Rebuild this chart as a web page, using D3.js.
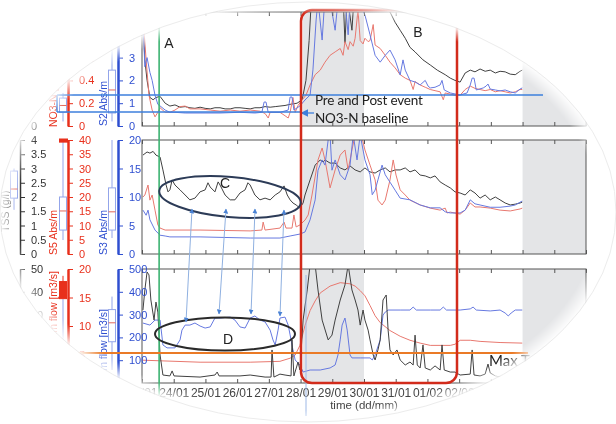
<!DOCTYPE html>
<html>
<head>
<meta charset="utf-8">
<script src="https://cdn.jsdelivr.net/npm/d3@7"></script>
<style>
  body { margin: 0; background: #fff; }
  svg { display: block; }
  text { font-family: "Liberation Sans", Arial, sans-serif; }
  .note { font-family: Lato, "Open Sans", sans-serif; }
</style>
</head>
<body>
<svg id="chart" width="616" height="424"></svg>
<script>
// ---- data (time in days since 23/01 00:00) ----
const dayLabels = ["23/01","24/01","25/01","26/01","27/01","28/01","29/01","30/01","31/01","01/02","02/02","03/02","04/02","05/02","06/02"];
const shadedSpans = [[5.08, 7.0], [12.0, 14.0]];

// panel 1 : black (unnamed axis), NO3-N (red), S2 Abs/m (blue)
const p1Black = [[0.03,9.3],[0.09,5.8],[0.16,4.0],[0.25,2.5],[0.35,2.3],[0.44,2.5],[0.57,2.6],[0.73,2.0],[0.88,1.75],[1.04,1.85],[1.2,1.65],[1.36,1.7],[1.51,1.6],[1.67,1.55],[1.83,1.65],[1.99,1.55],[2.15,1.5],[2.3,1.6],[2.46,1.6],[2.62,1.5],[2.78,1.5],[2.93,1.6],[3.09,1.6],[3.25,1.55],[3.41,1.5],[3.56,1.6],[3.72,1.6],[3.88,1.7],[4.04,1.65],[4.2,1.7],[4.35,1.75],[4.51,1.8],[4.67,1.9],[4.89,2.0],[5.05,2.3],[5.17,4.0],[5.27,7.5],[5.33,10.6],[5.93,11.9],[6.34,11.5],[6.4,7.3],[6.47,11.5],[6.62,8.4],[6.69,11.5],[7.03,11.5],[7.19,11.0],[7.51,10.6],[7.82,10.0],[7.98,9.1],[8.14,8.4],[8.3,7.7],[8.45,6.9],[8.61,6.5],[8.86,5.8],[9.09,5.35],[9.31,4.9],[9.56,4.5],[9.72,4.2],[9.87,4.0],[10.03,3.85],[10.19,4.65],[10.35,4.9],[10.5,4.75],[10.66,5.0],[10.82,4.8],[10.98,4.9],[11.14,4.65],[11.29,4.8],[11.45,4.75],[11.61,4.55],[11.77,4.5],[11.92,4.8],[11.99,4.9]];
const p1Red = [[0.03,0.97],[0.13,0.58],[0.22,0.27],[0.32,0.14],[0.41,0.08],[0.5,0.12],[0.57,0.16],[0.73,0.12],[0.88,0.12],[1.04,0.14],[1.2,0.17],[1.36,0.175],[1.51,0.15],[1.83,0.15],[2.15,0.14],[2.46,0.13],[2.78,0.14],[3.09,0.13],[3.41,0.14],[3.72,0.13],[3.88,0.11],[3.98,0.07],[4.04,0.12],[4.35,0.12],[4.51,0.09],[4.61,0.07],[4.67,0.12],[4.76,0.25],[4.83,0.12],[4.92,0.18],[5.05,0.23],[5.17,0.27],[5.3,0.36],[5.46,0.45],[5.62,0.49],[5.77,0.56],[5.93,0.62],[6.09,0.65],[6.25,0.68],[6.34,0.62],[6.4,0.74],[6.5,0.67],[6.56,0.74],[6.66,0.7],[6.72,0.77],[6.81,1.02],[6.88,0.75],[6.97,0.72],[7.03,0.77],[7.13,0.74],[7.19,0.75],[7.29,0.89],[7.35,0.71],[7.51,0.68],[7.67,0.62],[7.82,0.56],[7.98,0.51],[8.14,0.45],[8.3,0.42],[8.45,0.4],[8.55,0.32],[8.61,0.39],[8.77,0.36],[8.93,0.34],[9.09,0.32],[9.24,0.31],[9.4,0.3],[9.5,0.23],[9.56,0.29],[9.72,0.28],[9.87,0.27],[10.03,0.27],[10.19,0.32],[10.35,0.35],[10.5,0.33],[10.66,0.32],[10.82,0.31],[10.98,0.32],[11.14,0.3],[11.29,0.31],[11.45,0.3],[11.61,0.29],[11.77,0.3],[11.92,0.32],[11.99,0.32]];
const p1Blue = [[0.03,4.65],[0.09,2.6],[0.16,3.0],[0.25,2.35],[0.32,2.0],[0.41,1.35],[0.5,0.95],[0.57,0.88],[0.73,0.7],[0.88,0.6],[1.04,0.6],[1.36,0.57],[1.83,0.57],[2.46,0.57],[3.09,0.6],[3.56,0.57],[3.78,0.6],[3.85,1.05],[3.91,1.05],[3.98,0.6],[4.35,0.6],[4.61,0.7],[4.67,1.27],[4.73,1.27],[4.79,0.7],[4.98,0.88],[5.14,1.14],[5.3,1.36],[5.39,2.46],[5.49,4.65],[5.55,5.5],[5.68,3.77],[5.77,5.7],[5.93,5.5],[6.09,4.2],[6.18,5.5],[6.4,5.5],[6.5,4.0],[6.56,5.5],[6.81,5.75],[6.94,5.1],[7.03,4.87],[7.19,4.0],[7.35,3.1],[7.51,2.8],[7.67,3.1],[7.82,3.33],[7.98,2.9],[8.14,2.24],[8.23,2.9],[8.3,2.45],[8.45,2.0],[8.61,1.93],[8.77,1.8],[8.93,2.0],[9.02,1.75],[9.09,1.67],[9.24,1.7],[9.4,1.8],[9.46,2.0],[9.53,1.58],[9.72,1.45],[10.03,1.36],[10.25,1.45],[10.35,1.8],[10.41,2.1],[10.47,2.1],[10.54,1.58],[10.76,1.67],[10.85,1.75],[10.91,1.84],[10.98,1.62],[11.14,1.58],[11.29,1.54],[11.45,1.58],[11.61,1.5],[11.77,1.45],[11.92,1.62],[11.99,1.67]];

// panel 2 : black (g/l), S5 Abs/m (red), S3 Abs/m (blue)
const p2Black = [[0.03,3.47],[0.16,3.58],[0.25,3.54],[0.35,3.6],[0.44,3.47],[0.57,3.4],[0.66,2.95],[0.76,2.42],[0.82,2.18],[0.88,2.25],[0.95,2.6],[1.04,2.42],[1.2,2.25],[1.36,2.07],[1.51,1.9],[1.67,1.96],[1.83,2.18],[1.99,2.25],[2.08,2.5],[2.15,2.35],[2.3,2.18],[2.4,2.53],[2.46,2.42],[2.62,2.07],[2.78,1.9],[2.93,1.9],[3.09,2.14],[3.25,2.25],[3.34,2.5],[3.41,2.42],[3.56,2.07],[3.72,1.9],[3.88,1.96],[4.04,1.9],[4.2,2.07],[4.35,2.18],[4.48,2.39],[4.58,2.07],[4.67,1.9],[4.76,1.79],[4.86,1.72],[4.98,1.61],[5.08,1.79],[5.14,2.07],[5.3,2.6],[5.46,3.12],[5.62,3.3],[5.71,3.23],[5.77,3.3],[5.93,3.19],[6.09,3.19],[6.25,3.02],[6.4,2.95],[6.56,3.09],[6.72,2.95],[6.88,2.88],[7.03,3.02],[7.19,2.88],[7.35,2.84],[7.51,2.95],[7.67,3.02],[7.82,2.88],[7.98,2.95],[8.14,2.95],[8.3,3.02],[8.45,2.88],[8.61,2.95],[8.77,2.77],[8.93,2.74],[9.09,2.67],[9.24,2.74],[9.4,2.53],[9.56,2.42],[9.72,2.32],[9.87,2.18],[10.03,2.14],[10.19,2.07],[10.35,2.25],[10.5,2.14],[10.66,1.96],[10.82,2.07],[10.98,1.9],[11.14,2.0],[11.29,1.9],[11.45,1.79],[11.61,1.72],[11.77,1.75],[11.92,1.79],[11.99,1.82]];
const p2Red = [[0.03,20],[0.09,20.7],[0.19,24.2],[0.25,18.9],[0.32,20.7],[0.41,15.4],[0.5,10.2],[0.57,9.1],[0.73,8.4],[1.83,8.4],[3.41,8.1],[3.78,8.4],[3.82,11.2],[3.88,8.4],[4.35,9.1],[4.48,11.2],[4.54,9.1],[4.73,9.1],[4.79,13.7],[4.86,9.5],[4.98,10.2],[5.14,11.9],[5.24,13.7],[5.36,20.7],[5.55,33],[5.68,37.2],[5.77,33],[5.93,23.2],[6.09,29.5],[6.25,34.7],[6.4,36.5],[6.5,29.5],[6.62,36.5],[6.72,41.8],[6.88,43.5],[7.03,36.5],[7.19,31.2],[7.35,26],[7.44,18.9],[7.57,17.2],[7.67,18.9],[7.82,26],[7.92,33],[8.01,27.7],[8.14,22.5],[8.3,20.7],[8.45,18.9],[8.77,17.2],[9.09,16.1],[9.4,15.4],[9.56,16.1],[9.62,14.4],[9.72,14.7],[10.03,14.0],[10.19,15.4],[10.35,17.9],[10.5,16.5],[10.66,16.5],[10.98,16.1],[11.29,15.4],[11.61,15.1],[11.92,15.8],[11.99,16.1]];
const p2Blue = [[0.03,7.7],[0.13,6.8],[0.19,7.7],[0.25,6.0],[0.41,4.2],[0.57,3.3],[0.73,3.16],[0.88,3.0],[1.83,3.0],[3.41,2.8],[4.35,2.8],[4.67,3.16],[4.98,3.5],[5.14,3.86],[5.3,6.0],[5.46,9.5],[5.55,14.7],[5.68,16.5],[5.77,15.6],[5.87,20],[5.93,20.9],[5.99,14.7],[6.09,16.5],[6.25,13.9],[6.4,13.0],[6.56,15.6],[6.66,20.9],[6.78,16.5],[6.88,20.9],[7.03,16.5],[7.19,13.9],[7.26,10.4],[7.35,11.2],[7.44,13.0],[7.57,15.6],[7.67,13.9],[7.82,12.6],[7.98,11.2],[8.14,9.8],[8.45,9.5],[8.77,8.6],[9.09,8.1],[9.4,8.1],[9.56,7.4],[9.72,7.2],[10.03,7.2],[10.19,7.7],[10.35,9.5],[10.5,8.8],[10.66,8.6],[10.98,8.2],[11.29,8.2],[11.61,8.4],[11.77,8.6],[11.99,9.3]];

// panel 3 : black, stream flow (red), dam flow (blue)
const p3Black = [[0.03,32],[0.09,40.8],[0.16,48.7],[0.22,47.4],[0.28,36.4],[0.38,27.6],[0.44,35.5],[0.5,31.1],[0.57,12.3],[0.66,3.5],[0.88,3.1],[0.95,5.3],[1.01,3.1],[1.83,2.6],[2.3,3.5],[2.37,4.8],[2.43,3.1],[3.09,3.1],[3.41,3.5],[3.88,2.6],[4.07,2.6],[4.1,14.5],[4.16,2.6],[4.35,3.9],[4.51,3.5],[4.7,3.1],[4.73,18.9],[4.79,3.1],[4.92,9.2],[4.98,5.7],[5.08,27.6],[5.21,40.8],[5.3,51.8],[5.46,51.8],[5.55,40.8],[5.68,27.6],[5.87,18.9],[5.99,21],[6.09,27.6],[6.25,36.4],[6.4,43],[6.5,51.8],[6.62,40.8],[6.72,36.4],[6.81,32],[6.88,25.4],[6.97,32],[7.03,27.6],[7.13,23.2],[7.19,18.9],[7.29,12.3],[7.35,10.1],[7.44,14.5],[7.51,18.9],[7.6,36.4],[7.7,38.6],[7.76,23.2],[7.82,14.5],[7.92,12.3],[8.04,14.5],[8.14,10.1],[8.3,7.9],[8.45,9.2],[8.55,7.9],[8.61,21],[8.68,7.9],[8.77,6.6],[8.86,16.7],[8.93,6.6],[9.09,5.7],[9.24,7.5],[9.4,5.7],[9.46,16.7],[9.53,5.7],[9.72,4.8],[9.87,4.8],[10.03,3.5],[10.35,3.9],[10.41,14.5],[10.47,3.5],[10.66,3.1],[10.82,3.9],[10.91,8.3],[10.98,4.4],[11.14,3.1],[11.29,2.6],[11.45,3.1],[11.77,3.5],[11.99,3.1]];
const p3Red = [[0.03,4.0],[1.83,3.65],[3.41,3.65],[4.35,3.8],[4.67,4.35],[4.83,4.9],[4.98,6.6],[5.14,10.1],[5.3,12.7],[5.46,14.4],[5.62,15.8],[5.93,17.0],[6.25,17.6],[6.56,17.4],[6.72,17.0],[6.88,16.2],[7.03,15.3],[7.19,13.6],[7.35,11.8],[7.51,10.6],[7.82,9.2],[8.14,8.2],[8.45,7.5],[8.77,7.0],[9.09,6.6],[9.72,6.6],[9.87,6.8],[10.03,7.5],[10.35,7.5],[10.66,7.3],[11.29,7.1],[11.99,7.0]];
const p3Blue = [[0.03,263],[0.25,254],[0.41,276],[0.57,276],[0.66,167],[0.79,154],[1.04,154],[1.2,189],[1.26,232],[1.36,254],[1.51,254],[1.67,263],[1.83,250],[1.99,241],[2.15,246],[2.3,285],[2.46,285],[2.78,289],[2.93,276],[3.09,246],[3.25,241],[3.41,285],[3.56,294],[3.72,276],[3.88,268],[4.04,232],[4.13,189],[4.2,167],[4.29,232],[4.35,285],[4.51,289],[4.61,254],[4.67,211],[4.76,145],[4.83,101],[4.98,79],[5.08,48],[5.3,57],[5.62,57],[5.93,66],[6.09,79],[6.18,123],[6.25,189],[6.31,254],[6.4,285],[6.47,232],[6.56,123],[6.62,110],[6.88,110],[7.19,110],[7.26,101],[7.35,123],[7.51,189],[7.6,298],[7.67,311],[7.76,320],[8.14,320],[8.45,320],[8.55,333],[8.65,320],[9.09,320],[9.4,320],[9.5,333],[9.6,320],[10.03,320],[10.35,325],[10.44,333],[10.54,320],[10.98,316],[11.29,320],[11.45,307],[11.55,294],[11.64,307],[11.77,320],[11.99,320]];

// left axis ticks
const p1BlackTicks = [0, 2, 4, 6, 8, 10];
const p1RedTicks = [0, 0.2, 0.4, 0.6, 0.8, 1];
const p1BlueTicks = [0, 1, 2, 3, 4, 5];
const p2BlackTicks = [0, 0.5, 1, 1.5, 2, 2.5, 3, 3.5, 4];
const p2RedTicks = [0, 5, 10, 15, 20, 25, 30, 35, 40];
const p2BlueTicks = [0, 5, 10, 15, 20];
const p3BlackTicks = [10, 20, 30, 40, 50];
const p3RedTicks = [5, 10, 15, 20];
const p3BlueTicks = [100, 200, 300, 400, 500];

// box plots: [min, q1, median, q3, max]
const p1RedBox = [0.04, 0.12, 0.18, 0.245, 0.29];
const p1BlueBox = [0.2, 0.57, 1.58, 2.45, 3.33];
const p2BlackBox = [1.55, 1.96, 2.28, 2.91, 3.0];
const p2RedBox = [4.9, 8.4, 15.1, 20, 40];
const p2RedOutliers = [39.6, 40];
const p2BlueBox = [2.8, 4.2, 7.4, 11.6, 20];
const p3RedBox = [7.6, 14.8, 16, 17.8, 18.8];
const p3BlueBox = [57, 181, 264, 322, 379];

// ---- drawing ----
const BLACK = "#333", RED = "#e8301c", BLUE = "#2f4fd0";
const lineCol = { k: "#404040", r: "#e8786f", b: "#6679e0" };
const boxBlue = "#93a5ea";

const svg = d3.select("#chart");
const defs = svg.append("defs");
const grad = defs.append("radialGradient").attr("id", "fade");
grad.append("stop").attr("offset", "0.94").attr("stop-color", "#fff");
grad.append("stop").attr("offset", "1").attr("stop-color", "#000");
defs.append("mask").attr("id", "oval")
  .attr("maskUnits", "userSpaceOnUse").attr("x", 0).attr("y", 0).attr("width", 616).attr("height", 424)
  .append("ellipse").attr("cx", 308).attr("cy", 212).attr("rx", 309).attr("ry", 211).attr("fill", "url(#fade)");

svg.append("ellipse").attr("cx", 308).attr("cy", 212).attr("rx", 308).attr("ry", 210)
  .attr("fill", "none").attr("stroke", "#ececec").attr("stroke-width", 1);

const root = svg.append("g").attr("mask", "url(#oval)");

const x = d3.scaleLinear().domain([0, 14]).range([142, 586]);
const panelH = 114;

const panels = [
  { top: 12, axes: [
      { pos: 20, color: BLACK, domain: [0, 10], ticks: p1BlackTicks, title: "" },
      { pos: 68, color: RED, domain: [0, 1], ticks: p1RedTicks, title: "NO3-N [mg/l]", titleAnchor: "start", titleY: 127 },
      { pos: 118, color: BLUE, domain: [0, 5], ticks: p1BlueTicks, title: "S2 Abs/m", titleAnchor: "start", titleY: 126 } ],
    series: [ [p1Black, 0, lineCol.k], [p1Red, 1, lineCol.r], [p1Blue, 2, lineCol.b] ],
    boxes: [ [p1RedBox, 1, 63, "none"], [p1BlueBox, 2, 112, "none"] ] },
  { top: 140, axes: [
      { pos: 20, color: BLACK, domain: [0, 4], ticks: p2BlackTicks, title: "TSS (g/l)", titleAnchor: "start", titleY: 232 },
      { pos: 68, color: RED, domain: [0, 40], ticks: p2RedTicks, title: "S5 Abs/m", titleAnchor: "start", titleY: 255 },
      { pos: 118, color: BLUE, domain: [0, 20], ticks: p2BlueTicks, title: "S3 Abs/m", titleAnchor: "start", titleY: 255 } ],
    series: [ [p2Black, 0, lineCol.k], [p2Red, 1, lineCol.r], [p2Blue, 2, lineCol.b] ],
    boxes: [ [p2BlackBox, 0, 14, "none"], [p2RedBox, 1, 63, "none"], [p2BlueBox, 2, 112, "none"] ] },
  { top: 269, axes: [
      { pos: 20, color: BLACK, domain: [0, 50], ticks: p3BlackTicks, title: "" },
      { pos: 68, color: RED, domain: [0, 20], ticks: p3RedTicks, title: "Stream flow [m3/s]", titleAnchor: "end", titleY: 271 },
      { pos: 118, color: BLUE, domain: [0, 500], ticks: p3BlueTicks, title: "Dale Dam flow [m3/s]", titleAnchor: "end", titleY: 309 } ],
    series: [ [p3Red, 1, lineCol.r], [p3Blue, 2, lineCol.b], [p3Black, 0, lineCol.k] ],
    boxes: [ [p3RedBox, 1, 63, RED], [p3BlueBox, 2, 112, "none"] ] }
];

panels.forEach((p, pi) => {
  const bottom = p.top + panelH;
  const g = root.append("g");
  const ys = p.axes.map(a => d3.scaleLinear().domain(a.domain).range([bottom, p.top]));

  defs.append("clipPath").attr("id", "clip" + pi)
    .append("rect").attr("x", x(0)).attr("y", p.top).attr("width", x(14) - x(0)).attr("height", panelH);

  // shaded spans
  g.selectAll("rect.shade").data(shadedSpans).join("rect").attr("class", "shade")
    .attr("x", d => x(d[0])).attr("width", d => x(d[1]) - x(d[0]))
    .attr("y", p.top).attr("height", panelH).attr("fill", "#e4e5e7");

  // series
  const lines = g.append("g").attr("clip-path", `url(#clip${pi})`);
  p.series.forEach(([data, ai, col]) => {
    const line = d3.line().x(d => x(d[0])).y(d => ys[ai](d[1]));
    lines.append("path").attr("d", line(data)).attr("fill", "none")
      .attr("stroke", col).attr("stroke-width", 1).attr("stroke-linejoin", "round");
  });

  // frame
  g.append("rect").attr("x", x(0)).attr("y", p.top).attr("width", x(14) - x(0)).attr("height", panelH)
    .attr("fill", "none").attr("stroke", "#555").attr("stroke-width", 1);

  // day ticks
  const dayTicks = d3.range(0, 15);
  g.append("g").attr("transform", `translate(0,${bottom})`)
    .call(d3.axisBottom(x).tickValues(dayTicks).tickSize(-4).tickPadding(5)
      .tickFormat(i => pi === 2 ? dayLabels[i] : ""))
    .call(a => a.select(".domain").remove())
    .call(a => a.selectAll("line").attr("stroke", "#555"))
    .call(a => a.selectAll("text").attr("font-size", 12).attr("fill", "#444")
      .attr("font-family", "'Liberation Sans', Arial, sans-serif"));
  g.append("g").attr("transform", `translate(0,${p.top})`)
    .call(d3.axisTop(x).tickValues(dayTicks).tickSize(-4).tickFormat(""))
    .call(a => a.select(".domain").remove())
    .call(a => a.selectAll("line").attr("stroke", "#555"));

  // left axes
  p.axes.forEach((a, ai) => {
    const ag = g.append("g").attr("transform", `translate(${a.pos},0)`)
      .call(d3.axisRight(ys[ai]).tickValues(a.ticks).tickSize(5).tickPadding(6).tickSizeOuter(0)
        .tickFormat(d => String(d)));
    ag.select(".domain").attr("stroke", a.color).attr("stroke-width", a.color === BLACK ? 1.5 : 2.5);
    ag.selectAll("line").attr("stroke", a.color);
    ag.selectAll("text").attr("fill", a.color).attr("font-size", 11)
      .attr("font-family", "'Liberation Sans', Arial, sans-serif");
    if (a.title) {
      g.append("text").attr("transform", `translate(${a.pos - 11},${a.titleY}) rotate(-90)`)
        .attr("text-anchor", a.titleAnchor).attr("font-size", 10.5).attr("fill", a.color).text(a.title);
    }
  });

  // box plots
  p.boxes.forEach(([b, ai, cx, fill]) => {
    const y = ys[ai], w = 7;
    const bg = g.append("g");
    const col = fill === "none" ? boxBlue : fill;
    bg.append("line").attr("x1", cx).attr("x2", cx).attr("y1", y(b[3])).attr("y2", y(b[4]))
      .attr("stroke", col).attr("stroke-width", 1);
    bg.append("line").attr("x1", cx).attr("x2", cx).attr("y1", y(b[0])).attr("y2", y(b[1]))
      .attr("stroke", boxBlue).attr("stroke-width", 1);
    bg.append("rect").attr("x", cx - w / 2).attr("y", y(b[3])).attr("width", w).attr("height", y(b[1]) - y(b[3]))
      .attr("fill", fill === "none" ? "#fff" : fill).attr("stroke", col).attr("stroke-width", 1);
    if (fill === "none") {
      bg.append("line").attr("x1", cx - w / 2).attr("x2", cx + w / 2).attr("y1", y(b[2])).attr("y2", y(b[2]))
        .attr("stroke", "#e2675a").attr("stroke-width", 1);
    }
  });
  if (pi === 1) {
    g.append("rect").attr("x", 59).attr("width", 9)
      .attr("y", ys[1](p2RedOutliers[1]) - 1.5).attr("height", ys[1](p2RedOutliers[0]) - ys[1](p2RedOutliers[1]) + 3)
      .attr("fill", RED);
  }
});

// ---- annotations ----
const ann = root.append("g");
// event marker lines
ann.append("line").attr("x1", x(0.54)).attr("x2", x(0.54)).attr("y1", 0).attr("y2", 395)
  .attr("stroke", "#3cb371").attr("stroke-width", 1.6);
ann.append("line").attr("x1", 306).attr("x2", 306).attr("y1", 275).attr("y2", 416)
  .attr("stroke", "#9db8e6").attr("stroke-width", 1);

// baseline lines
ann.append("line").attr("x1", 57).attr("x2", 543).attr("y1", 95).attr("y2", 95)
  .attr("stroke", "#3d7fdc").attr("stroke-width", 1.5);
ann.append("line").attr("x1", 57).attr("x2", 300).attr("y1", 112).attr("y2", 112)
  .attr("stroke", "#3d7fdc").attr("stroke-width", 1.5);
ann.append("line").attr("x1", 57).attr("x2", 57).attr("y1", 95).attr("y2", 112)
  .attr("stroke", "#3d7fdc").attr("stroke-width", 1.5);
defs.append("marker").attr("id", "arrowBlue").attr("viewBox", "0 0 10 10").attr("refX", 8).attr("refY", 5)
  .attr("markerWidth", 6).attr("markerHeight", 6).attr("orient", "auto-start-reverse")
  .append("path").attr("d", "M0,0L10,5L0,10z").attr("fill", "#3d7fdc");
ann.append("line").attr("x1", 314).attr("x2", 302).attr("y1", 113).attr("y2", 113)
  .attr("stroke", "#3d7fdc").attr("stroke-width", 1.3).attr("marker-end", "url(#arrowBlue)");

// max line
ann.append("line").attr("x1", 0).attr("x2", 528).attr("y1", 353).attr("y2", 353)
  .attr("stroke", "#ea7a26").attr("stroke-width", 2);

// event box B
ann.append("rect").attr("x", 301).attr("y", 10).attr("width", 156).attr("height", 373).attr("rx", 11)
  .attr("fill", "none").attr("stroke", "#d22b1b").attr("stroke-width", 2.5);

// ellipses C and D
ann.append("ellipse").attr("cx", 0).attr("cy", 0).attr("rx", 71).attr("ry", 20)
  .attr("transform", "translate(230,197) rotate(5)")
  .attr("fill", "none").attr("stroke", "#2c3b57").attr("stroke-width", 2);
ann.append("ellipse").attr("cx", 225).attr("cy", 334).attr("rx", 70).attr("ry", 16.5)
  .attr("fill", "none").attr("stroke", "#2a2a2a").attr("stroke-width", 2);

// linking arrows
const links = [[192, 209, 186, 322], [226, 209, 219, 314], [255, 209, 251, 314], [284, 210, 280, 316]];
defs.append("marker").attr("id", "arrowLight").attr("viewBox", "0 0 10 10").attr("refX", 9).attr("refY", 5)
  .attr("markerWidth", 5).attr("markerHeight", 5).attr("orient", "auto-start-reverse")
  .append("path").attr("d", "M0,0L10,5L0,10z").attr("fill", "#4a82d4");
ann.selectAll("line.link").data(links).join("line").attr("class", "link")
  .attr("x1", d => d[0]).attr("y1", d => d[1]).attr("x2", d => d[2]).attr("y2", d => d[3])
  .attr("stroke", "#8fb0e0").attr("stroke-width", 1)
  .attr("marker-start", "url(#arrowLight)").attr("marker-end", "url(#arrowLight)");

// labels
const letters = [["A", 169, 48], ["B", 418, 37], ["C", 225, 188], ["D", 228, 344]];
ann.selectAll("text.letter").data(letters).join("text").attr("class", "letter")
  .attr("x", d => d[1]).attr("y", d => d[2]).attr("text-anchor", "middle")
  .attr("font-size", 14).attr("fill", "#222").text(d => d[0]);

ann.append("text").attr("class", "note").attr("x", 315).attr("y", 105).attr("font-size", 13.5)
  .attr("letter-spacing", -0.2).attr("fill", "#222").text("Pre and Post event");
ann.append("text").attr("class", "note").attr("x", 315).attr("y", 123).attr("font-size", 13.5)
  .attr("letter-spacing", -0.2).attr("fill", "#222").text("NO3-N baseline");
ann.append("text").attr("class", "note").attr("x", 489).attr("y", 366).attr("font-size", 15)
  .attr("fill", "#222").text("Max T");

ann.append("text").attr("x", 364).attr("y", 409).attr("text-anchor", "middle")
  .attr("font-size", 11.5).attr("fill", "#444").text("time (dd/mm)");
</script>
</body>
</html>
